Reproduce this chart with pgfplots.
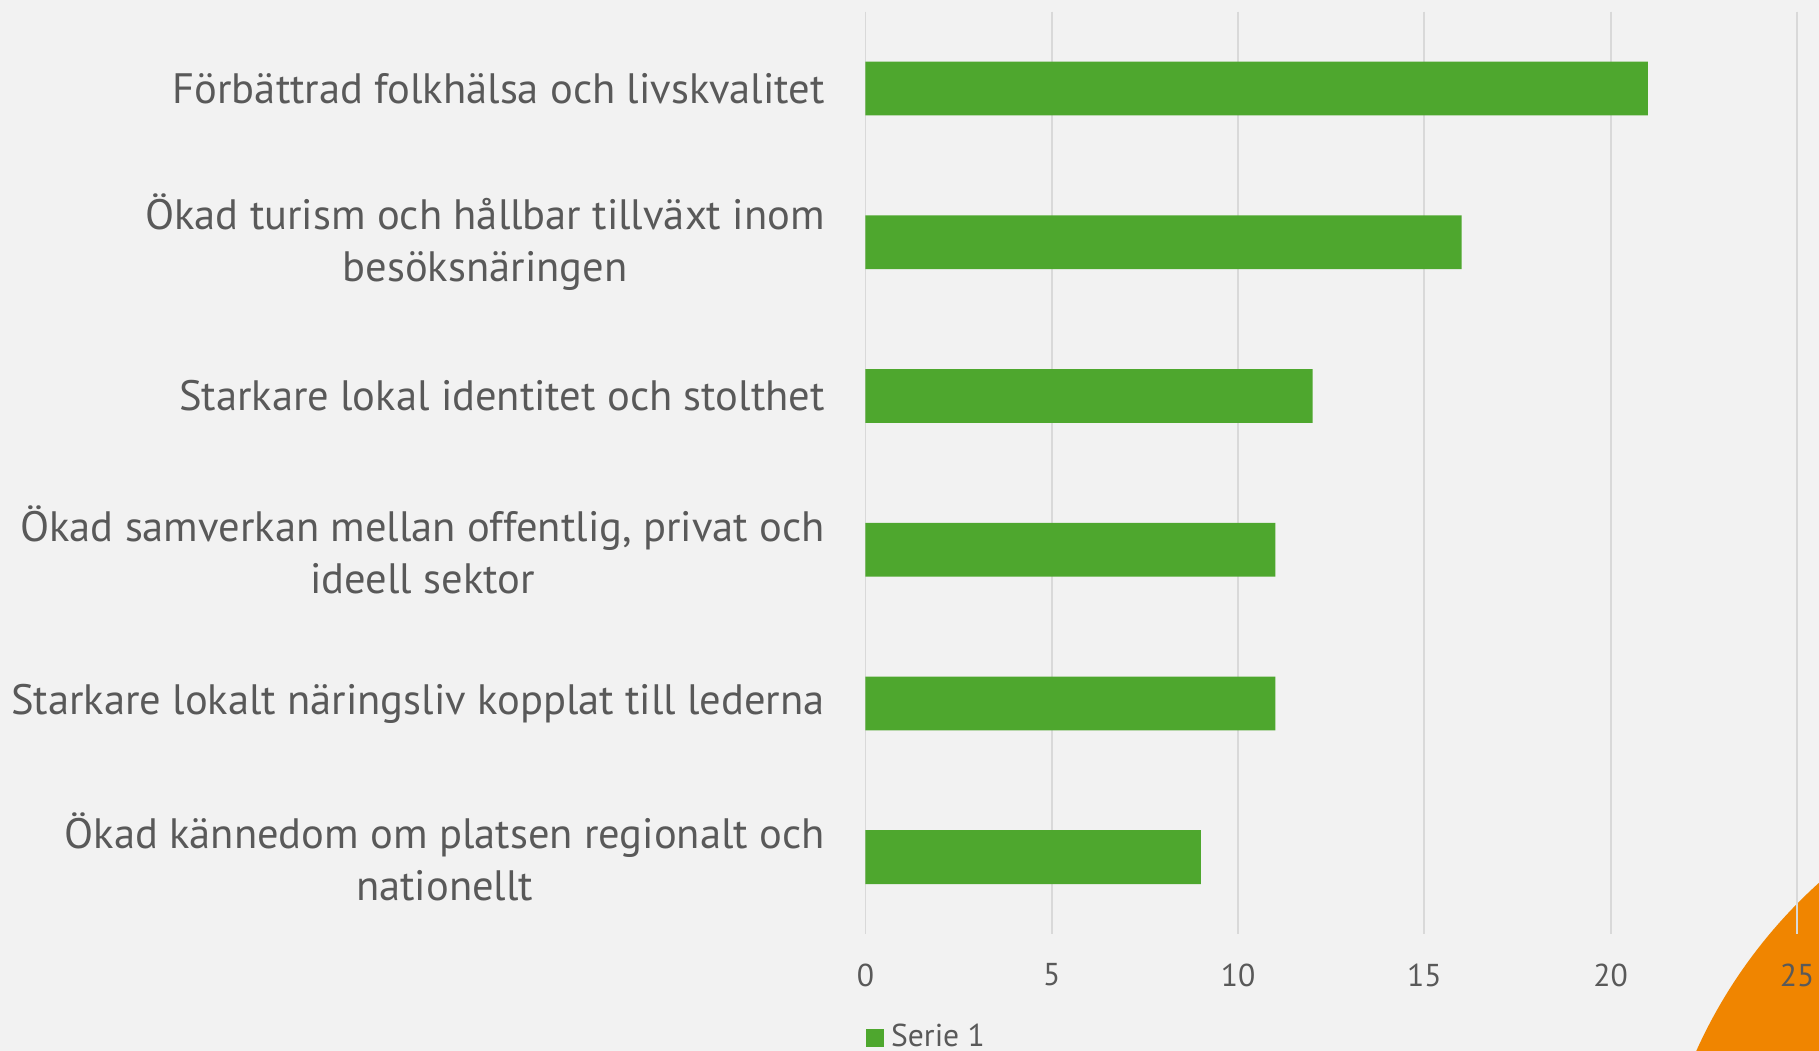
\documentclass[border=0pt]{standalone}
\usepackage{fontspec}
\setmainfont{PT Sans}
\usepackage{pgfplots}
\pgfplotsset{compat=1.18}
\definecolor{bg}{RGB}{242,242,242}
\definecolor{bargreen}{RGB}{78,167,46}
\definecolor{gridgray}{RGB}{217,217,217}
\definecolor{txt}{RGB}{89,89,89}
\definecolor{orng}{RGB}{240,133,0}

\begin{document}
\begin{tikzpicture}
\useasboundingbox (0,0) rectangle (18.19,10.51);
\clip (0,0) rectangle (18.19,10.51);
\fill[bg] (0,0) rectangle (18.19,10.51);
% decorative quarter disc in the corner
\fill[orng] (21.57,-2.07) circle (5.05);

\begin{axis}[
  at={(8.654cm,1.17cm)}, anchor=south west,
  scale only axis, width=9.316cm, height=9.224cm,
  xbar, bar width=0.35, bar shift=0pt,
  xmin=0, xmax=25, ymin=-0.5, ymax=5.5, y dir=reverse,
  xtick={0,5,...,25}, ytick={0,...,5},
  yticklabels={
    {Förbättrad folkhälsa och livskvalitet},
    {Ökad turism och hållbar tillväxt inom\\besöksnäringen},
    {Starkare lokal identitet och stolthet},
    {Ökad samverkan mellan offentlig, privat och\\ideell sektor},
    {Starkare lokalt näringsliv kopplat till lederna},
    {Ökad kännedom om platsen regionalt och\\nationellt}},
  axis line style={draw=none}, major tick length=0pt,
  xmajorgrids, grid style={gridgray, line width=0.5pt},
  /pgf/number format/assume math mode=true,
  xticklabel style={anchor=center, yshift=-0.41cm, text=txt,
    font=\fontsize{9}{10}\selectfont},
  yticklabel style={anchor=east, xshift=-0.4cm, inner sep=0pt, align=center,
    text=txt, font=\fontsize{12.1}{14.8}\selectfont},
  legend style={at={(0,-0.1128)}, anchor=west, draw=none, fill=none,
    inner sep=0pt, text=txt, font=\fontsize{9}{10}\selectfont},
  legend image code/.code={\fill[#1] (0.02cm,-0.09cm) rectangle (0.2cm,0.09cm);},
]
  \addplot[fill=bargreen, draw=none] coordinates {
    (21,0) (16,1) (12,2) (11,3) (11,4) (9,5)};
  \addlegendentry{Serie 1}
\end{axis}
\end{tikzpicture}
\end{document}
